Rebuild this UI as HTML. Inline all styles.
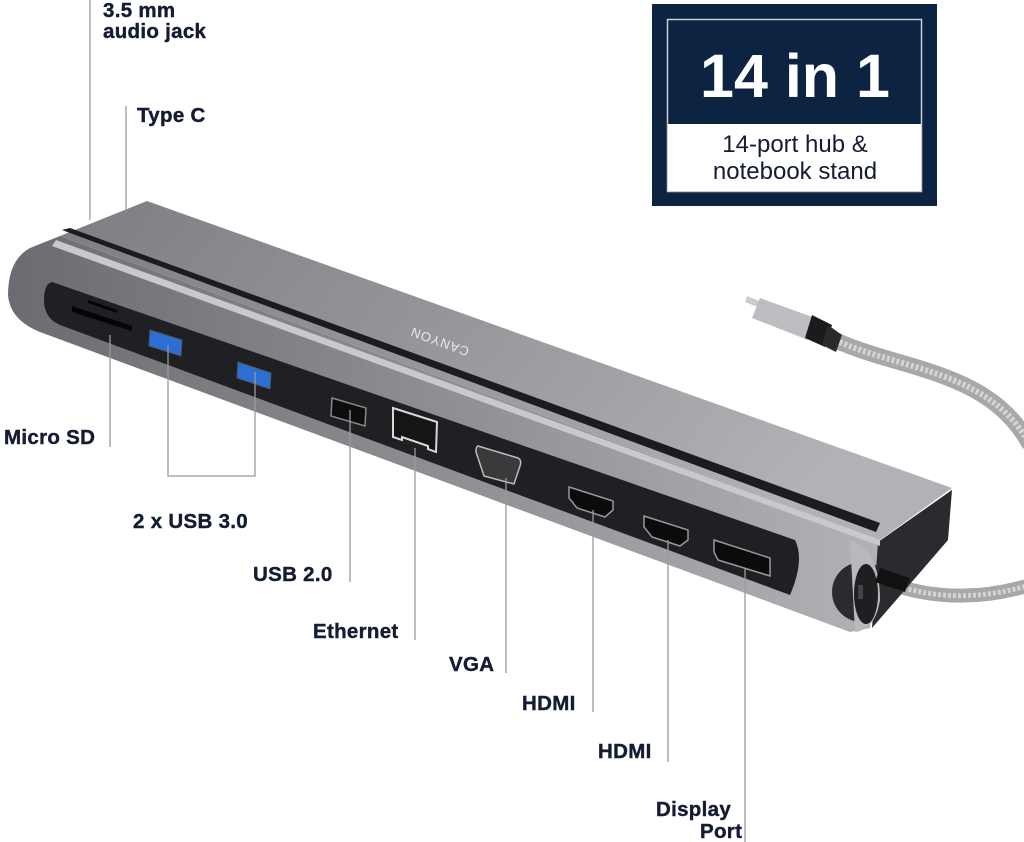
<!DOCTYPE html>
<html><head><meta charset="utf-8"><style>
html,body{margin:0;padding:0;background:#fff;}
svg{display:block;}
.l{font-family:"Liberation Sans",sans-serif;font-weight:bold;font-size:20.5px;fill:#141c33;letter-spacing:0.3px;stroke:#141c33;stroke-width:0.4px;}
</style></head><body>
<svg width="1024" height="842" viewBox="0 0 1024 842" xmlns="http://www.w3.org/2000/svg">
<defs>
<linearGradient id="top" x1="0" y1="0" x2="1" y2="0.3">
<stop offset="0" stop-color="#7c7e83"/><stop offset="0.6" stop-color="#9a9ca0"/><stop offset="1" stop-color="#b0b2b5"/>
</linearGradient>
<linearGradient id="front" x1="0" y1="0" x2="1" y2="0">
<stop offset="0" stop-color="#6a6c71"/><stop offset="1" stop-color="#b0b2b5"/>
</linearGradient>
</defs>
<path d="M835 340 C 900 370, 990 370, 1030 445" stroke="#a8a8a8" stroke-width="16" fill="none"/>
<path d="M835 340 C 900 370, 990 370, 1030 445" stroke="#d4d4d4" stroke-width="6" fill="none" stroke-dasharray="3 2"/>
<path d="M880 580 C 930 600, 980 600, 1030 585" stroke="#a8a8a8" stroke-width="14" fill="none"/>
<path d="M880 580 C 930 600, 980 600, 1030 585" stroke="#d4d4d4" stroke-width="5" fill="none" stroke-dasharray="3 2"/>
<polygon points="747,296 762,302 760,308 745,302" fill="#ccc"/>
<polygon points="760,298 815,318 808,340 752,318" fill="#bdbec1"/>
<polygon points="812,315 832,325 825,347 805,338" fill="#1b1b1d"/>
<polygon points="828,325 842,335 836,352 822,345" fill="#2a2a2c"/>
<path d="M60 236 L880 540 L870 628 L850 632 L40 332 Q10 320 8 295 Q8 260 30 248 Z" fill="url(#front)"/>
<polygon points="878,542 952,490 948,540 872,628" fill="#2a2b2e"/>
<circle cx="862" cy="592" r="30" fill="#2a2b2e"/>
<path d="M850 540 Q880 550 880 600 Q875 630 855 632" fill="#b8b9bc"/>
<ellipse cx="866" cy="594" rx="12" ry="30" fill="#1e1f21"/>
<rect x="858" y="585" width="5" height="14" fill="#444"/>
<polygon points="880,568 910,578 905,592 875,582" fill="#111"/>
<polygon points="60,236 147,201 952,488 880,540" fill="url(#top)"/>
<polygon points="62,230 70,228 880,523 876,532" fill="#1c1c1e"/>
<polygon points="56,240 880,540 880,546 52,246" fill="#c8c9cc"/>
<path d="M52 282 L795 540 Q805 560 790 595 L60 325 Q44 318 44 300 Q44 284 52 282 Z" fill="#1f2023"/>
<polygon points="88,300 117,310 117,313 88,303" fill="#050505"/>
<polygon points="72,306 132,326 132,331 72,312" fill="#050505"/>
<polygon points="150,330 182,340 181,356 149,346" fill="#2b6fd6" stroke="#555" stroke-width="1"/>
<polygon points="238,362 271,373 270,389 237,378" fill="#2b6fd6" stroke="#555" stroke-width="1"/>
<polygon points="332,398 366,408 365,426 331,416" fill="#0d0d0d" stroke="#888" stroke-width="1.5"/>
<polygon points="393,408 437,422 436,452 428,449 428,446 402,437 402,440 393,437" fill="#151515" stroke="#d8d8d8" stroke-width="2"/>
<path d="M478 446 L518 458 Q522 460 520 466 L514 484 L484 476 L476 452 Q476 446 478 446Z" fill="#3a3a3c" stroke="#bbb" stroke-width="1.5"/>
<polygon points="569,487 613,501 613,510 605,517 577,508 569,498" fill="#0b0b0b" stroke="#999" stroke-width="1.5"/>
<polygon points="644,516 688,530 688,540 680,546 652,537 644,527" fill="#0b0b0b" stroke="#999" stroke-width="1.5"/>
<polygon points="714,540 770,558 770,576 718,560 714,552" fill="#0b0b0b" stroke="#999" stroke-width="1.5"/>
<text x="0" y="0" transform="translate(470,348) rotate(200)" font-family="Liberation Sans,sans-serif" font-size="13" fill="#e8e8e8" letter-spacing="1">CANYON</text>
<g stroke="#9a9a9a" stroke-width="1.3" fill="none">
<line x1="90" y1="0" x2="90" y2="220"/>
<line x1="126" y1="106" x2="126" y2="212"/>
<line x1="110" y1="335" x2="110" y2="447"/>
<polyline points="168,345 168,476 255,476 255,372"/>
<line x1="350" y1="410" x2="350" y2="582"/>
<line x1="415" y1="448" x2="415" y2="640"/>
<line x1="506" y1="478" x2="506" y2="673"/>
<line x1="593" y1="510" x2="593" y2="712"/>
<line x1="668" y1="540" x2="668" y2="762"/>
<line x1="745" y1="568" x2="745" y2="842"/>
</g>
<text class="l" x="103" y="17">3.5 mm</text>
<text class="l" x="103" y="38">audio jack</text>
<text class="l" x="137" y="122">Type C</text>
<text class="l" x="4" y="444">Micro SD</text>
<text class="l" x="133" y="528">2 x USB 3.0</text>
<text class="l" x="253" y="581">USB 2.0</text>
<text class="l" x="313" y="638">Ethernet</text>
<text class="l" x="449" y="671">VGA</text>
<text class="l" x="522" y="710">HDMI</text>
<text class="l" x="598" y="758">HDMI</text>
<text class="l" x="656" y="816">Display</text>
<text class="l" x="700" y="838">Port</text>
<rect x="652" y="4" width="285" height="202" fill="#0c2442"/>
<rect x="667.5" y="19.5" width="254" height="172" fill="none" stroke="#c9ced6" stroke-width="1.5"/>
<rect x="668" y="124" width="253" height="67" fill="#fff"/>
<text x="795" y="97" text-anchor="middle" font-family="Liberation Sans,sans-serif" font-weight="bold" font-size="61" fill="#fff">14 in 1</text>
<text x="795" y="152" text-anchor="middle" font-family="Liberation Sans,sans-serif" font-size="24" fill="#141c33">14-port hub &amp;</text>
<text x="795" y="179" text-anchor="middle" font-family="Liberation Sans,sans-serif" font-size="24" fill="#141c33">notebook stand</text>
</svg>
</body></html>
